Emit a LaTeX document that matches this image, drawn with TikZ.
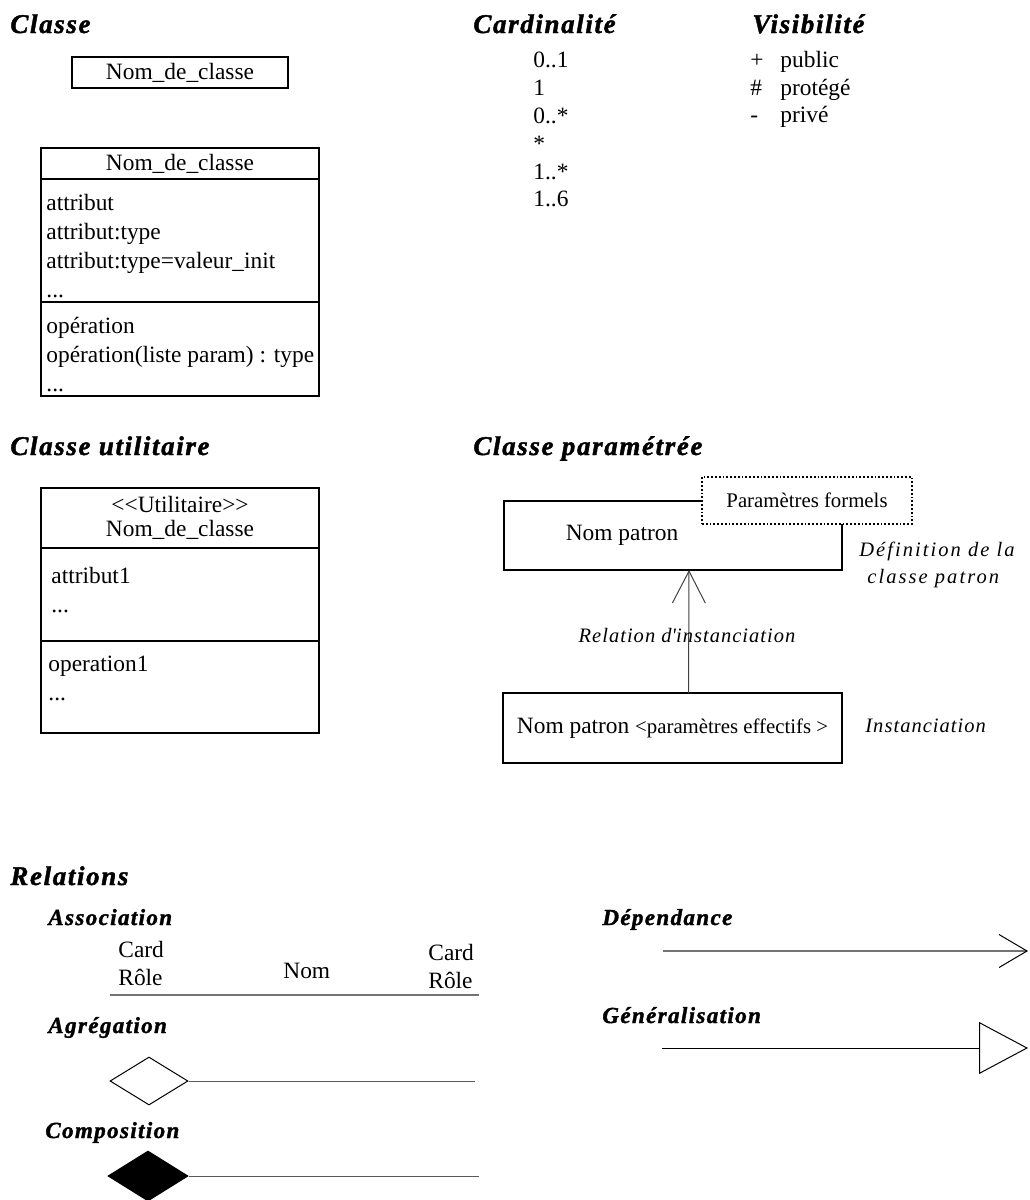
\documentclass[tikz,border=0pt]{standalone}
\usepackage{fontspec}
\setmainfont{Liberation Serif}
\newfontfamily\headfont[LetterSpace=6, FakeBold=1.5]{Liberation Serif Bold Italic}
\newfontfamily\notefont[LetterSpace=5]{Liberation Serif}
\newfontfamily\widenotefont[LetterSpace=10]{Liberation Serif}
\usetikzlibrary{
    shapes.geometric, arrows.meta, positioning
}
\tikzset{
  heading/.style={anchor=base west, inner sep=0pt,
                  font=\headfont\fontsize{13.5}{16}\selectfont},
  subheading/.style={heading,
                  font=\headfont\fontsize{11.5}{14}\selectfont},
  note/.style={anchor=base west, inner sep=0pt,
               font=\notefont\itshape\fontsize{10.25}{13}\selectfont},
  widenote/.style={note, font=\widenotefont\itshape\fontsize{10.25}{13}\selectfont},
  txt/.style={inner sep=0pt, align=left, font=\fontsize{11.7}{14.5}\selectfont},
  umlbox/.style={rectangle, draw, line width=0.7pt, inner sep=0pt, outer sep=0pt,
                 font=\fontsize{11.7}{14.5}\selectfont},
  slot/.style={umlbox, minimum width=\CW},
  tag/.style={rectangle, draw, densely dotted, line width=0.9pt, fill=white,
              minimum width=105pt, minimum height=23.5pt,
              font=\fontsize{10.4}{12}\selectfont},
  aggdia/.style={diamond, draw, line width=0.5pt, inner sep=0pt,
                 minimum width=39pt, minimum height=24pt},
  compdia/.style={aggdia, fill=black, minimum width=40pt, minimum height=25pt},
  thinrel/.style={line width=0.5pt, black!65},
  thickrel/.style={line width=1pt, black!55},
  instarr/.style={-{Straight Barb[length=16pt, width=16.5pt]}, line width=0.5pt, black!75},
  deparr/.style={thickrel,
                 -{Straight Barb[length=14pt, width=16.5pt, color=black, line width=0.5pt]}},
  genarr/.style={-{Triangle[open, length=24.5pt, width=26pt]}, line width=0.5pt},
}
\def\CW{139pt}
\begin{document}
\begin{tikzpicture}[x=0.5pt, y=-0.5pt, node distance=0pt]
  \useasboundingbox (0,0) rectangle (1029,1200);

  \node[heading] (tClasse) at (10,33) {Classe};
  \node[umlbox, minimum width=108pt, minimum height=15.5pt] (cls) at (180,72.5) {Nom\_de\_classe};

  \node[slot, minimum height=15.5pt] (clsHdr) at (180,163.5) {Nom\_de\_classe};
  \node[slot, minimum height=61.5pt, below=of clsHdr] (clsAttr) {};
  \node[slot, minimum height=47pt, below=of clsAttr] (clsOps) {};
  \node[txt, below right=7.5pt and 2.5pt of clsAttr.north west] (clsAttrTxt)
    {attribut\\attribut:type\\attribut:type=valeur\_init\\...};
  \node[txt, below right=7.5pt and 2.5pt of clsOps.north west] (clsOpsTxt)
    {opération\\opération(liste param) : type\\...};

  \node[heading] (tCard) at (473,33) {Cardinalité};
  \node[txt, anchor=north west, font=\fontsize{11.7}{13.9}\selectfont] (cards) at (533,52)
    {0..1\\1\\0..*\\*\\1..*\\1..6};

  \node[heading] (tVis) at (752,33) {Visibilité};
  \node[txt, anchor=north west, font=\fontsize{11.7}{13.75}\selectfont] (vis) at (750,51)
    {\makebox[15pt][l]{+}public\\\makebox[15pt][l]{\#}protégé\\\makebox[15pt][l]{-}privé};

  \node[heading] (tUtil) at (10,455) {Classe utilitaire};
  \node[slot, minimum height=30pt, align=center, font=\fontsize{11.7}{12}\selectfont] (utHdr)
    at (180,518) {<\kern0pt<Utilitaire>\kern0pt>\\Nom\_de\_classe};
  \node[slot, minimum height=46.5pt, below=of utHdr] (utAttr) {};
  \node[slot, minimum height=46pt, below=of utAttr] (utOps) {};
  \node[txt, below right=9.5pt and 5pt of utAttr.north west] (utAttrTxt) {attribut1\\...};
  \node[txt, below right=7.5pt and 3.5pt of utOps.north west] (utOpsTxt) {operation1\\...};

  \node[heading] (tParam) at (473,455) {Classe paramétrée};
  \node[umlbox, minimum width=169pt, minimum height=34.5pt] (tpl) at (673,535.5) {};
  \node[txt] (tplName) at ([xshift=-25.5pt]tpl.center) {Nom patron};
  \node[tag] (tplPar) at (807,500.5) {Paramètres formels};
  \node[umlbox, minimum width=169.5pt, minimum height=35pt] (inst) at (672.5,728)
    {Nom patron {\fontsize{10.4}{12}\selectfont<paramètres effectifs >}};
  \draw[instarr] ([xshift=8pt]inst.north) -- ([xshift=8pt]tpl.south);
  \node[note, anchor=base] (instLbl) at (687,642) {Relation d\textquotesingle instanciation};
  \node[widenote] (defLbl) at (859,556) {Définition de la};
  \node[widenote] (defLbl2) at (867,583) {classe patron};
  \node[note] (instTxt) at (865,732) {Instanciation};

  \node[heading] (tRel) at (10,885) {Relations};
  \node[subheading] (tAssoc) at (48,925) {Association};
  \coordinate (assocL) at (110,995);
  \coordinate (assocR) at (479,995);
  \draw[thickrel] (assocL) -- (assocR);
  \node[txt, anchor=north west, font=\fontsize{11.7}{14}\selectfont] (cardL) at (118,941) {Card\\Rôle};
  \node[txt, anchor=base west] (nomAssoc) at (283,978) {Nom};
  \node[txt, anchor=north west, font=\fontsize{11.7}{14}\selectfont] (cardR) at (428,944) {Card\\Rôle};

  \node[subheading] (tAgg) at (48,1033) {Agrégation};
  \node[aggdia] (agg) at (149,1081) {};
  \coordinate (aggEnd) at (475,1081);
  \draw[thinrel] (agg.east) -- (aggEnd);

  \node[subheading] (tComp) at (45,1138) {Composition};
  \node[compdia] (compo) at (148,1176) {};
  \coordinate (compoEnd) at (479,1176);
  \draw[thinrel] (compo.east) -- (compoEnd);

  \node[subheading] (tDep) at (602,925) {Dépendance};
  \coordinate (depL) at (663,951);
  \coordinate (depR) at (1028,951);
  \draw[deparr] (depL) -- (depR);

  \node[subheading] (tGen) at (602,1023) {Généralisation};
  \coordinate (genL) at (662,1048);
  \coordinate (genR) at (1028,1048);
  \draw[genarr] (genL) -- (genR);

\end{tikzpicture}
\end{document}
